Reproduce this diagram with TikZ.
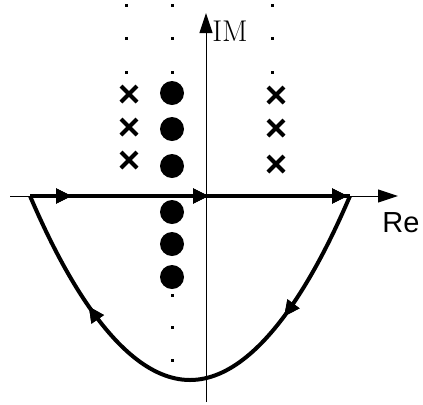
\documentclass[tikz,border=0pt]{standalone}
\usepackage{fontspec}
\newfontfamily\arialfont{Liberation Sans}
\usetikzlibrary{arrows.meta,decorations.markings}

\begin{document}
\begin{tikzpicture}[x=0.5pt,y=0.5pt,every node/.style={font=\small},
  axis/.style={line width=0.5pt,-{Triangle[length=10pt,width=6.5pt]}},
  contour/.style={line width=2pt,line join=round},
  pole/.style={line width=2pt},
  midtip/.style={postaction=decorate,decoration={markings,
      mark=at position #1 with {\arrow{Triangle[length=8pt,width=7pt]}}}}]
\useasboundingbox (0,0) rectangle (423,404);
% axes
\draw[axis] (10,208) -- (398,208);
\draw[axis] (206,2) -- (206,391);
\node[anchor=west,inner sep=0pt] (im) at (212,373) {\fontsize{15}{15}\selectfont IM};
\node[inner sep=0pt] (re) at (401,181) {\arialfont\fontsize{14.5}{14.5}\selectfont Re};
% contour
\coordinate (left) at (30,208);
\coordinate (right) at (350,208);
\coordinate (bottom) at (190,24);
\draw[contour,midtip=21pt,midtip=89.5pt,midtip=159pt] (left) -- (right);
\draw[contour,midtip=0.27,midtip=0.755] (right) parabola bend (bottom) (left);
% big dots
\foreach \y in {311,275,238,192,160,127}
  \fill (172,\y) circle (12);
% small dots
\foreach \x in {126,172,272}
  \foreach \y in {399,366,332}
    \fill (\x-1.5,\y-1.5) rectangle ++(3,3);
\foreach \y in {109,77,44}
  \fill (172-1.5,\y-1.5) rectangle ++(3,3);
% crosses
\foreach \x/\y in {129/310,129/277,129/244,276/309,276/276,276/240}
  \draw[pole] (\x-8,\y-8) -- (\x+8,\y+8) (\x-8,\y+8) -- (\x+8,\y-8);
\end{tikzpicture}
\end{document}
